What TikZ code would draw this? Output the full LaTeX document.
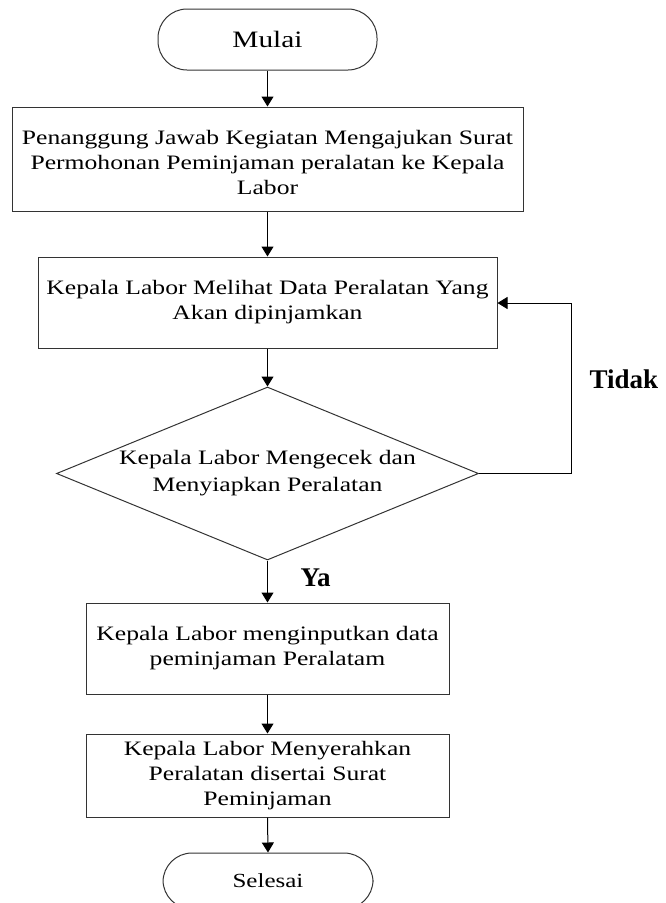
\documentclass[tikz,border=0pt]{standalone}
\usepackage{fontspec}
\setmainfont{Liberation Serif}[FakeStretch=1.25]
\newfontfamily\lblfont{Liberation Serif}
\usetikzlibrary{shapes.geometric,arrows.meta}
\begin{document}
\begin{tikzpicture}[x=1pt,y=-1pt,
  line width=1pt,
  every node/.style={font=\fontsize{20.5}{25}\selectfont, align=center, inner sep=0pt},
  procbox/.style={draw=black!80, rectangle},
  termbox/.style={draw=black!80, rectangle, rounded corners=29pt},
  decbox/.style={draw=black!80, diamond},
  flow/.style={draw=black, -{Triangle[length=10pt,width=12pt]}},
  lbl/.style={font=\lblfont\bfseries\fontsize{27}{30}\selectfont}
]
\useasboundingbox (0,0) rectangle (666,903);
\clip (0,0) rectangle (666,903);

\node[termbox, minimum width=219pt, minimum height=61pt, font=\fontsize{23.5}{26}\selectfont] (start) at (267.5,39.5) {Mulai};

\node[procbox, minimum width=511pt, minimum height=104pt] (b1) at (267.5,159) {};
\node (t1) at (267.5,162) {Penanggung Jawab Kegiatan Mengajukan Surat\\Permohonan Peminjaman peralatan ke Kepala\\Labor};

\node[procbox, minimum width=459pt, minimum height=91pt] (b2) at (267.5,302.5) {Kepala Labor Melihat Data Peralatan Yang\\Akan dipinjamkan};

\node[decbox, minimum width=422pt, minimum height=173pt] (dec) at (267.5,473.5) {};
\node[font=\fontsize{20.5}{27}\selectfont] (tdec) at (267.5,473.5) {Kepala Labor Mengecek dan\\Menyiapkan Peralatan};

\node[procbox, minimum width=363pt, minimum height=91pt] (b3) at (267.5,648.5) {Kepala Labor menginputkan data\\peminjaman Peralatam};

\node[procbox, minimum width=363pt, minimum height=83pt] (b4) at (267.5,775.5) {Kepala Labor Menyerahkan\\Peralatan disertai Surat\\Peminjaman};

\node[termbox, minimum width=210pt, minimum height=56pt, font=\fontsize{20}{22}\selectfont] (end) at (268,881) {Selesai};

\coordinate (loopA) at (571,473.5);
\coordinate (loopB) at (571,303);

\draw[flow] (start.south) -- (b1.north);
\draw[flow] (b1.south) -- (b2.north);
\draw[flow] (b2.south) -- (dec.north);
\draw[flow] (dec.south) -- (b3.north);
\draw[flow] (b3.south) -- (b4.north);
\draw[flow] (b4.south) -- (end.north);
\draw[flow] (dec.east) -- (loopA) -- (loopB) -- (b2.east |- loopB);

\node[lbl, anchor=west] (tidak) at (589,379) {Tidak};
\node[lbl, anchor=west] (ya) at (300,578) {Ya};
\end{tikzpicture}
\end{document}
